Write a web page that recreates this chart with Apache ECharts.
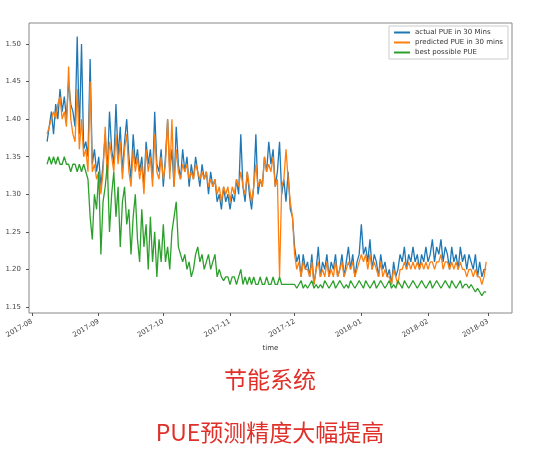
<!DOCTYPE html>
<html><head><meta charset="utf-8">
<script src="https://cdn.jsdelivr.net/npm/echarts@6/dist/echarts.min.js"></script>
<style>body{margin:0;background:#fff}#c{width:540px;height:456px}</style>
</head><body><div id="c"></div>
<script>
// daily values starting 2017-08-08
var startDate = '2017-08-08';
var actual = [
1.37,1.39,1.41,1.38,1.42,1.40,1.44,1.41,1.43,1.40,1.45,1.42,1.41,1.39,1.51,1.38,1.50,1.36,1.37,1.35,1.48,1.34,1.36,1.33,
1.35,1.31,1.34,1.38,1.33,1.41,1.36,1.34,1.42,1.35,1.39,1.33,1.37,1.40,1.35,1.32,1.38,1.34,1.36,1.33,1.35,1.31,1.37,1.34,1.36,1.32,1.41,1.34,1.33,1.36,
1.31,1.35,1.40,1.33,1.36,1.31,1.39,1.34,1.32,1.36,1.33,1.35,1.31,1.34,1.32,1.35,1.33,1.31,1.34,1.32,1.33,1.30,1.33,1.31,1.32,1.29,1.30,1.28,1.31,1.29,1.30,
1.28,1.30,1.29,1.32,1.30,1.38,1.31,1.29,1.33,1.30,1.28,1.31,1.38,1.30,1.32,1.31,1.35,1.33,1.37,1.34,1.36,1.31,1.33,1.37,1.30,1.32,1.29,1.33,1.28,1.27,
1.23,1.21,1.22,1.19,1.22,1.20,1.21,1.19,1.22,1.18,1.20,1.23,1.19,1.21,1.20,1.22,1.19,1.21,1.20,1.22,1.19,1.20,1.22,1.19,1.21,1.23,1.20,1.22,1.19,1.21,1.22,
1.26,1.22,1.23,1.21,1.24,1.20,1.22,1.21,1.19,1.22,1.20,1.21,1.19,1.20,1.18,1.21,1.19,1.20,1.22,1.21,1.23,1.20,1.22,1.21,1.23,1.21,1.22,1.20,1.22,1.21,1.23,
1.21,1.22,1.24,1.21,1.23,1.22,1.24,1.21,1.23,1.22,1.20,1.23,1.21,1.22,1.20,1.23,1.21,1.22,1.20,1.22,1.21,1.20,1.22,1.19,1.21,1.19,1.20,1.20
];
var predicted = [
1.38,1.39,1.40,1.41,1.40,1.42,1.43,1.40,1.41,1.39,1.47,1.40,1.38,1.37,1.44,1.36,1.40,1.35,1.36,1.33,1.45,1.33,1.34,1.32,
1.33,1.30,1.33,1.39,1.32,1.37,1.35,1.33,1.38,1.34,1.37,1.32,1.36,1.38,1.33,1.31,1.36,1.33,1.35,1.32,1.34,1.30,1.36,1.33,1.35,1.31,1.38,1.33,1.32,1.35,
1.32,1.34,1.40,1.32,1.40,1.31,1.36,1.33,1.32,1.34,1.33,1.34,1.32,1.33,1.32,1.34,1.33,1.32,1.33,1.32,1.33,1.31,1.32,1.31,1.32,1.30,1.31,1.29,1.31,1.30,1.31,
1.29,1.31,1.30,1.32,1.31,1.33,1.31,1.30,1.33,1.31,1.29,1.31,1.34,1.31,1.32,1.31,1.35,1.33,1.34,1.33,1.35,1.31,1.32,1.19,1.31,1.32,1.36,1.32,1.29,1.27,
1.22,1.20,1.21,1.19,1.21,1.20,1.20,1.19,1.21,1.18,1.20,1.21,1.19,1.20,1.19,1.21,1.19,1.20,1.19,1.21,1.19,1.20,1.21,1.19,1.20,1.21,1.20,1.21,1.19,1.20,1.21,
1.22,1.21,1.22,1.20,1.22,1.20,1.21,1.20,1.19,1.21,1.19,1.20,1.19,1.19,1.18,1.20,1.19,1.18,1.20,1.20,1.21,1.20,1.21,1.20,1.21,1.20,1.21,1.20,1.21,1.20,1.21,
1.20,1.21,1.21,1.20,1.21,1.21,1.22,1.20,1.21,1.21,1.20,1.21,1.20,1.21,1.20,1.21,1.20,1.20,1.19,1.20,1.20,1.19,1.20,1.19,1.19,1.18,1.19,1.21
];
var best = [
1.34,1.35,1.34,1.35,1.34,1.35,1.34,1.34,1.35,1.34,1.34,1.33,1.34,1.34,1.33,1.34,1.33,1.34,1.33,1.32,1.27,1.24,1.30,1.28,
1.33,1.22,1.29,1.31,1.34,1.25,1.30,1.33,1.27,1.31,1.23,1.29,1.31,1.26,1.28,1.22,1.27,1.30,1.24,1.21,1.28,1.23,1.26,1.20,1.27,1.21,1.25,1.19,1.24,1.21,
1.26,1.21,1.23,1.20,1.25,1.27,1.29,1.23,1.22,1.21,1.22,1.20,1.21,1.19,1.20,1.22,1.23,1.21,1.22,1.20,1.21,1.22,1.20,1.21,1.22,1.19,1.20,1.19,1.185,1.19,1.19,
1.18,1.19,1.19,1.18,1.19,1.20,1.18,1.19,1.18,1.19,1.18,1.19,1.18,1.18,1.19,1.18,1.18,1.19,1.18,1.18,1.19,1.18,1.18,1.19,1.18,1.18,1.18,1.18,1.18,1.18,
1.18,1.175,1.18,1.185,1.175,1.18,1.175,1.18,1.185,1.175,1.18,1.175,1.18,1.175,1.185,1.18,1.175,1.18,1.185,1.175,1.18,1.185,1.18,1.175,1.18,1.175,1.185,1.18,1.175,1.18,1.185,
1.18,1.175,1.185,1.18,1.175,1.18,1.185,1.175,1.18,1.185,1.18,1.175,1.18,1.185,1.175,1.18,1.175,1.185,1.18,1.175,1.185,1.18,1.175,1.18,1.185,1.18,1.175,1.18,1.185,1.18,1.175,
1.18,1.185,1.175,1.18,1.185,1.18,1.175,1.18,1.185,1.18,1.175,1.185,1.18,1.175,1.18,1.185,1.175,1.18,1.18,1.175,1.18,1.175,1.17,1.175,1.17,1.165,1.17,1.17
];
var seriesNames = ['actual PUE in 30 Mins', 'predicted PUE in 30 mins', 'best possible PUE'];
var yTicks = [1.15, 1.20, 1.25, 1.30, 1.35, 1.40, 1.45, 1.50];
var monthTicks = ['2017-08-01','2017-09-01','2017-10-01','2017-11-01','2017-12-01','2018-01-01','2018-02-01','2018-03-01'];

var DAY = 86400000;
var t0 = new Date(startDate + 'T00:00:00Z').getTime();
function pairs(arr) {
  return arr.map(function (v, i) { return [t0 + i * DAY, v]; });
}
var monthMs = monthTicks.map(function (d) { return new Date(d + 'T00:00:00Z').getTime(); });

var chart = echarts.init(document.getElementById('c'));
var lineStyleOf = function (c) { return { color: c, width: 1.3 }; };
chart.setOption({
  backgroundColor: '#fff',
  animation: false,
  color: ['#1f77b4', '#ff7f0e', '#2ca02c'],
  grid: { left: 29, right: 28, top: 23, bottom: 143, show: true, borderColor: '#888', borderWidth: 1 },
  legend: {
    right: 32, top: 26, orient: 'vertical', itemWidth: 16, itemHeight: 2, itemGap: 3,
    icon: 'rect', borderColor: '#ccc', borderWidth: 1, padding: [3, 5],
    textStyle: { fontSize: 7, color: '#333', fontFamily: 'DejaVu Sans' },
    data: seriesNames
  },
  xAxis: {
    type: 'value',
    min: monthMs[0] - 1.4 * DAY, max: monthMs[7] + 11 * DAY,
    name: 'time', nameLocation: 'middle', nameGap: 30,
    nameTextStyle: { fontSize: 7, color: '#333', fontFamily: 'DejaVu Sans' },
    axisLine: { show: false },
    splitLine: { show: false },
    axisTick: { show: true, customValues: monthMs, length: 3, lineStyle: { color: '#555' } },
    axisLabel: {
      customValues: monthMs, rotate: 30, fontSize: 7, color: '#444', fontFamily: 'DejaVu Sans',
      formatter: function (v) { var d = new Date(v); var m = d.getUTCMonth() + 1; return d.getUTCFullYear() + '-' + (m < 10 ? '0' + m : m); }
    }
  },
  yAxis: {
    type: 'value', min: 1.142, max: 1.528,
    axisLine: { show: false },
    splitLine: { show: false },
    axisTick: { show: true, customValues: yTicks, length: 3, lineStyle: { color: '#555' } },
    axisLabel: { customValues: yTicks, fontSize: 7, color: '#444', fontFamily: 'DejaVu Sans',
      formatter: function (v) { return v.toFixed(2); } }
  },
  series: [
    { name: seriesNames[0], type: 'line', data: pairs(actual), showSymbol: false, lineStyle: lineStyleOf('#1f77b4') },
    { name: seriesNames[1], type: 'line', data: pairs(predicted), showSymbol: false, lineStyle: lineStyleOf('#ff7f0e') },
    { name: seriesNames[2], type: 'line', data: pairs(best), showSymbol: false, lineStyle: lineStyleOf('#2ca02c') }
  ],
  graphic: [
    { type: 'text', left: 'center', top: 368, style: { text: '节能系统', fontSize: 23, fill: '#e0302a', fontFamily: 'Noto Sans CJK SC' } },
    { type: 'text', left: 'center', top: 421, style: { text: 'PUE预测精度大幅提高', fontSize: 23, fill: '#e0302a', fontFamily: 'Noto Sans CJK SC' } }
  ]
});
</script></body></html>
